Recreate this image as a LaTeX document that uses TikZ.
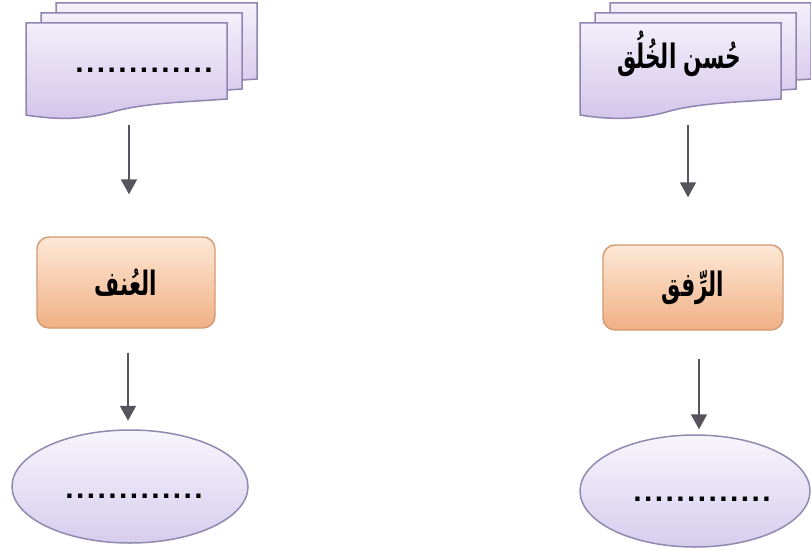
\documentclass[tikz,border=0pt]{standalone}
\usepackage{fontspec}
\usepackage{graphicx}
\setmainfont{Liberation Sans}
\newfontfamily\arabicfont[Script=Arabic]{DejaVu Sans}
\newfontfamily\dotfont[LetterSpace=8]{Liberation Sans}
\TeXXeTstate=1
\usetikzlibrary{arrows.meta,shapes.geometric}
\definecolor{docedge}{HTML}{9084B2}
\definecolor{doctop}{HTML}{F3EFFA}
\definecolor{docbot}{HTML}{D3C5EA}
\definecolor{boxedge}{HTML}{D39A72}
\definecolor{boxtop}{HTML}{FDE8D6}
\definecolor{boxbot}{HTML}{F0B084}
\definecolor{elledge}{HTML}{9089B0}
\definecolor{elltop}{HTML}{F7F5FC}
\definecolor{ellbot}{HTML}{D6CDEE}
\definecolor{arrcol}{HTML}{58545E}
\tikzset{
  docpath/.style={draw=docedge, line width=1.5pt, top color=doctop, bottom color=docbot},
  docanchor/.style={rectangle, minimum width=201pt, minimum height=94pt, inner sep=0pt},
  orangebox/.style={rectangle, rounded corners=12pt, draw=boxedge, line width=1.4pt,
     top color=boxtop, bottom color=boxbot, inner sep=0pt},
  ovalbox/.style={ellipse, draw=elledge, line width=1.5pt, top color=elltop,
     bottom color=ellbot, inner sep=0pt},
  artext/.style={font=\arabicfont\bfseries\fontsize{24}{28}\selectfont},
  dottext/.style={font=\dotfont\bfseries\fontsize{30}{32}\selectfont, anchor=base, inner sep=0pt},
  arr/.style={draw=arrcol, line width=1.9pt, -{Triangle[width=16pt,length=15pt]}, fill=arrcol}
}
\newcommand\artxt[1]{\scalebox{0.9}[1.4]{\beginR #1\endR}}
\newcommand\multidoc[2]{%
  \foreach \dx/\dy in {30/-20,15/-10,0/0}{%
    \begin{scope}[shift={(#1+\dx,#2+\dy)}]
      \path[docpath] (0,0) -- (201,0) -- (201,76)
        .. controls (160,79) and (120,80) .. (90,88)
        .. controls (60,97) and (30,97) .. (0,92) -- cycle;
    \end{scope}}%
}
\begin{document}
\begin{tikzpicture}[x=1pt,y=-1pt]
\useasboundingbox (0,0) rectangle (811,551);
\begin{scope}
\clip (0,0) rectangle (811,551);
\multidoc{26}{23}
\multidoc{580}{23}
\end{scope}
\node[docanchor] (ldoc) at (126.5,70) {};
\node[docanchor] (rdoc) at (681.5,70) {};
\node[dottext] (ldoctext) at (144,72) {.............};
\node[artext] (rdoctext) at (679,54) {\artxt{حُسن الخُلُق}};
% boxes
\node[orangebox, minimum width=178pt, minimum height=91pt, artext] (lbox) at (126,282.5) {\artxt{العُنف}};
\node[orangebox, minimum width=180pt, minimum height=85pt, artext] (rbox) at (693,287.5) {\artxt{الرِّفق}};
% ellipses
\node[ovalbox, minimum width=236pt, minimum height=113pt] (lell) at (130,486.5) {};
\node[ovalbox, minimum width=230pt, minimum height=112pt] (rell) at (695,491) {};
\node[dottext] (lelltext) at (134,498) {.............};
\node[dottext] (relltext) at (702,501) {.............};
% arrows
\draw[arr, shorten <=8pt, shorten >=42pt] ([xshift=2.5pt]ldoc.south) -- ([xshift=2.5pt]ldoc.south |- lbox.north);
\draw[arr, shorten <=8pt, shorten >=47pt] ([xshift=6.5pt]rdoc.south) -- ([xshift=6.5pt]rdoc.south |- rbox.north);
\draw[arr, shorten <=24pt, shorten >=8.5pt] ([xshift=2pt]lbox.south) -- ([xshift=2pt]lbox.south |- lell.north);
\draw[arr, shorten <=28pt, shorten >=5pt] ([xshift=6pt]rbox.south) -- ([xshift=6pt]rbox.south |- rell.north);
\end{tikzpicture}
\end{document}
